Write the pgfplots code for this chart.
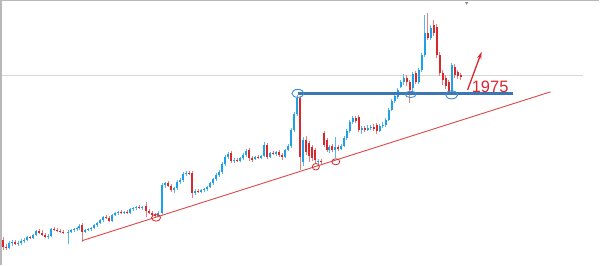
\documentclass[border=0pt]{standalone}
\usepackage{pgfplots}
\pgfplotsset{compat=1.18}
\usepackage{pgfplotstable}
\usepackage{fontspec}
\setmainfont{Liberation Sans}
\usetikzlibrary{arrows.meta}
\definecolor{blueC}{HTML}{1EA0E6}
\definecolor{redC}{HTML}{D8282E}
\definecolor{lineB}{HTML}{3B77B5}
\definecolor{ellB}{HTML}{3F8AD0}
\definecolor{trendR}{HTML}{E04848}
\definecolor{gridG}{HTML}{D8D8D8}
\definecolor{frameG}{HTML}{B8B8B8}

\pgfplotstableread{
x o h l c
9 248 241 249 243
12 243 240 246 242
18 244 241 246 243
21 243 239 245 241
24 241 238 243 240
27 240 236 241 237
33 238 234 239 235
36 235 230 236 231
48 237 234 239 236
51 236 228 237 229
68 233 230 244 232
71 232 229 233 230
74 230 228 232 229
77 229 227 231 228
79 228 224 230 226
85 232 229 233 230
88 230 228 231 229
91 229 227 231 228
94 228 224 229 225
97 225 222 227 223
100 223 219 224 220
103 220 216 222 217
112 221 214 222 215
115 215 212 216 213
118 213 211 215 212
124 213 211 214 212
130 213 208 214 209
133 209 207 211 208
136 208 206 210 207
142 208 206 210 207
158 216 211 217 213
162 213 183 214 185
165 185 182 188 183
174 190 187 193 188
177 188 180 190 182
180 182 178 184 180
183 180 172 182 174
186 174 171 176 173
195 193 189 195 191
201 192 189 193 190
204 190 188 192 189
207 189 186 191 187
210 187 182 188 183
213 183 178 185 179
216 179 173 181 175
219 175 170 177 172
222 172 162 174 164
225 164 155 166 157
228 157 152 159 154
234 161 158 163 160
240 161 157 162 158
243 158 153 160 155
246 155 149 157 151
255 159 156 160 157
261 158 155 159 156
264 156 142 157 145
270 157 152 158 153
276 154 151 156 152
285 157 149 158 150
288 150 144 151 146
291 146 128 148 130
294 130 112 132 114
297 114 95 116 98
303 162 137 166 140
318 162 159 164 161
329 150 145 153 147
335 150 137 158 147
341 149 144 150 146
344 146 136 147 138
347 138 129 140 131
350 131 120 133 122
353 122 116 124 118
362 130 126 134 128
368 130 125 131 128
371 128 125 130 127
380 131 124 132 126
383 126 122 128 125
386 125 118 127 120
389 120 108 121 110
392 110 99 111 101
395 101 94 103 96
398 97 88 99 90
401 87 80 88 82
404 82 74 85 78
413 88 72 92 74
419 82 68 84 70
422 70 53 72 55
425 55 15 57 33
431 38 25 40 28
452 93 63 94 65
}\bluetab

\pgfplotstableread{
x o h l c
3 240 237 250 247
6 247 244 250 248
15 242 240 245 244
30 237 236 239 238
39 231 229 234 233
42 233 230 236 235
45 235 233 238 237
54 229 227 231 230
57 230 228 232 231
60 231 229 233 232
63 232 230 234 233
82 225 223 242 232
106 217 215 219 218
109 218 216 222 221
121 212 210 214 213
127 212 210 214 213
139 207 205 209 208
146 206 202 217 211
149 211 209 214 213
152 213 211 216 215
155 215 213 218 216
168 183 181 187 186
171 186 184 192 190
189 173 171 175 174
192 173 171 198 193
198 191 189 193 192
231 153 151 163 161
237 160 158 162 161
249 150 148 161 158
252 158 156 162 160
258 157 155 159 158
267 145 143 159 157
273 153 151 155 154
279 152 150 157 155
282 155 153 160 157
300 98 96 170 157
306 140 136 155 152
309 143 141 162 156
312 147 145 161 158
315 150 148 163 160
321 161 159 164 162
324 133 131 147 145
327 140 138 152 150
332 146 144 152 150
338 147 145 151 149
356 118 116 123 121
359 117 115 132 130
365 128 126 132 130
374 127 124 131 129
377 125 123 134 131
407 78 75 86 82
410 82 80 103 90
416 73 71 84 82
428 33 13 40 38
434 25 20 36 33
437 27 24 58 55
440 55 52 76 73
443 73 70 85 80
446 78 75 89 86
449 82 80 95 92
455 67 64 78 75
458 72 70 79 76
461 75 73 80 77
}\redtab

\begin{document}
\begin{tikzpicture}
\begin{axis}[
  width=600pt, height=265pt, scale only axis,
  xmin=0, xmax=600, ymin=0, ymax=265,
  y dir=reverse, hide axis, clip=false,
]
% white background
\addplot[draw=none, fill=white] coordinates {(0,0) (600,0) (600,265) (0,265)} -- cycle;
% frame
\addplot[frameG, line width=1.2pt] coordinates {(0.6,265) (0.6,0.6) (600,0.6)};
% gray horizontal line
\addplot[gridG, line width=0.9pt] coordinates {(2,76) (584,76)};
% small mark at top
\addplot[only marks, mark=triangle*, mark size=1.3pt, gray, mark options={rotate=180}] coordinates {(467,3)};

% wicks
\addplot[draw=none, mark=none, error bars/.cd, y dir=both, y explicit, error mark=none,
  error bar style={line width=0.6pt, draw=blueC!75}]
  table[x=x, y expr={(\thisrow{h}+\thisrow{l})/2}, y error expr={(\thisrow{l}-\thisrow{h})/2}] {\bluetab};
\addplot[draw=none, mark=none, error bars/.cd, y dir=both, y explicit, error mark=none,
  error bar style={line width=0.6pt, draw=redC!60}]
  table[x=x, y expr={(\thisrow{h}+\thisrow{l})/2}, y error expr={(\thisrow{l}-\thisrow{h})/2}] {\redtab};
% bodies
\addplot[draw=none, mark=none, error bars/.cd, y dir=both, y explicit, error mark=none,
  error bar style={line width=2pt, draw=blueC}]
  table[x=x, y expr={(\thisrow{o}+\thisrow{c})/2}, y error expr={max(abs(\thisrow{o}-\thisrow{c})/2,0.6)}] {\bluetab};
\addplot[draw=none, mark=none, error bars/.cd, y dir=both, y explicit, error mark=none,
  error bar style={line width=2pt, draw=redC}]
  table[x=x, y expr={(\thisrow{o}+\thisrow{c})/2}, y error expr={max(abs(\thisrow{o}-\thisrow{c})/2,0.6)}] {\redtab};

% trend line
\addplot[trendR, line width=0.9pt] coordinates {(82,241) (551,92)};
% resistance / support line
\addplot[lineB, line width=3pt] coordinates {(298,94) (513,94)};

% ellipses
\draw[ellB, line width=0.9pt] (axis cs:298,93.5) ellipse (6pt and 4pt);
\draw[ellB, line width=0.9pt] (axis cs:411,94.5) ellipse (5.5pt and 3.2pt);
\draw[ellB, line width=0.9pt] (axis cs:452,95) ellipse (6pt and 4pt);
% red circles
\draw[redC, line width=0.8pt] (axis cs:156,218) ellipse (4.5pt and 3.5pt);
\draw[redC, line width=0.8pt] (axis cs:316,167) ellipse (3.5pt and 3.3pt);
\draw[redC, line width=0.8pt] (axis cs:336,162) ellipse (4pt and 3pt);

% arrow
\addplot[redC, line width=1.3pt, -{Stealth[length=7pt, width=4.5pt]}] coordinates {(468,90) (482,52)};
\node[text=redC, font=\fontsize{16.5}{16.5}\selectfont, anchor=base west, inner sep=0pt] at (axis cs:472,93) {1975};
\end{axis}
\end{tikzpicture}
\end{document}
